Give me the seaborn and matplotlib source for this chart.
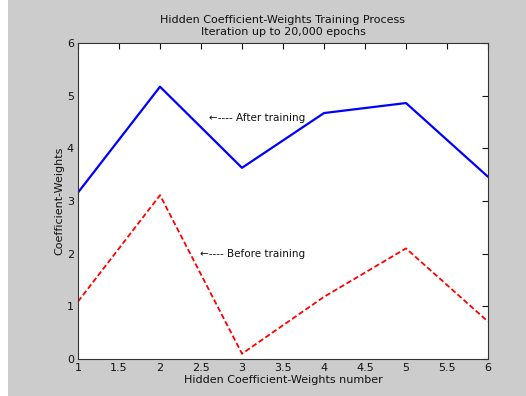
import matplotlib
matplotlib.use("Agg")
import matplotlib.pyplot as plt
import matplotlib.patches as mpatches
import seaborn as sns
import pandas as pd

weight_number = [1, 2, 3, 4, 5, 6]
after_training = [3.16, 5.17, 3.63, 4.67, 4.86, 3.46]
before_training = [1.09, 3.11, 0.10, 1.18, 2.10, 0.71]
x_ticks = [1, 1.5, 2, 2.5, 3, 3.5, 4, 4.5, 5, 5.5, 6]
x_tick_labels = ["1", "1.5", "2", "2.5", "3", "3.5", "4", "4.5", "5", "5.5", "6"]
y_ticks = [0, 1, 2, 3, 4, 5, 6]

sns.set_style("white")
plt.rcParams['font.family'] = ['DejaVu Sans']
plt.rcParams['text.color'] = '#111111'
plt.rcParams['axes.labelcolor'] = '#111111'

df_after = pd.DataFrame({"x": weight_number, "y": after_training})
df_before = pd.DataFrame({"x": weight_number, "y": before_training})

fig = plt.figure(figsize=(5.26, 3.96), dpi=100, facecolor="#cccccc")
fig.patches.append(mpatches.Rectangle((0, 0), 8 / 526, 1, transform=fig.transFigure,
                                      facecolor="white", edgecolor="none", zorder=-1))
ax = fig.add_axes([78 / 526, 1 - 359 / 396, (488 - 78) / 526, (359 - 43) / 396])
ax.set_facecolor("white")

sns.lineplot(data=df_after, x="x", y="y", ax=ax, color=(0, 0, 1), linewidth=1.6)
sns.lineplot(data=df_before, x="x", y="y", ax=ax, color=(1, 0, 0), linewidth=1.3,
             linestyle="--", dashes=False)
ax.lines[-1].set_dashes([3, 1.5])

ax.set_xlim(1, 6)
ax.set_ylim(0, 6)
ax.set_xticks(x_ticks)
ax.set_xticklabels(x_tick_labels)
ax.set_yticks(y_ticks)
ax.tick_params(direction="in", top=True, right=True, length=4, width=0.8,
               labelsize=8, colors="#111111", pad=3)
for s in ax.spines.values():
    s.set_color("#333333")
    s.set_linewidth(0.8)

ax.set_xlabel("Hidden Coefficient-Weights number", fontsize=8, labelpad=1)
ax.set_ylabel("Coefficient-Weights", fontsize=8, labelpad=2)
ax.set_title("Hidden Coefficient-Weights Training Process\nIteration up to 20,000 epochs",
             fontsize=8, pad=6, linespacing=1.2)

ax.text(2.6, 4.58, "\u2190---- After training", fontsize=7.5, va="center", ha="left")
ax.text(2.49, 1.99, "\u2190---- Before training", fontsize=7.5, va="center", ha="left")

fig.savefig("out.png", dpi=100, facecolor=fig.get_facecolor())
